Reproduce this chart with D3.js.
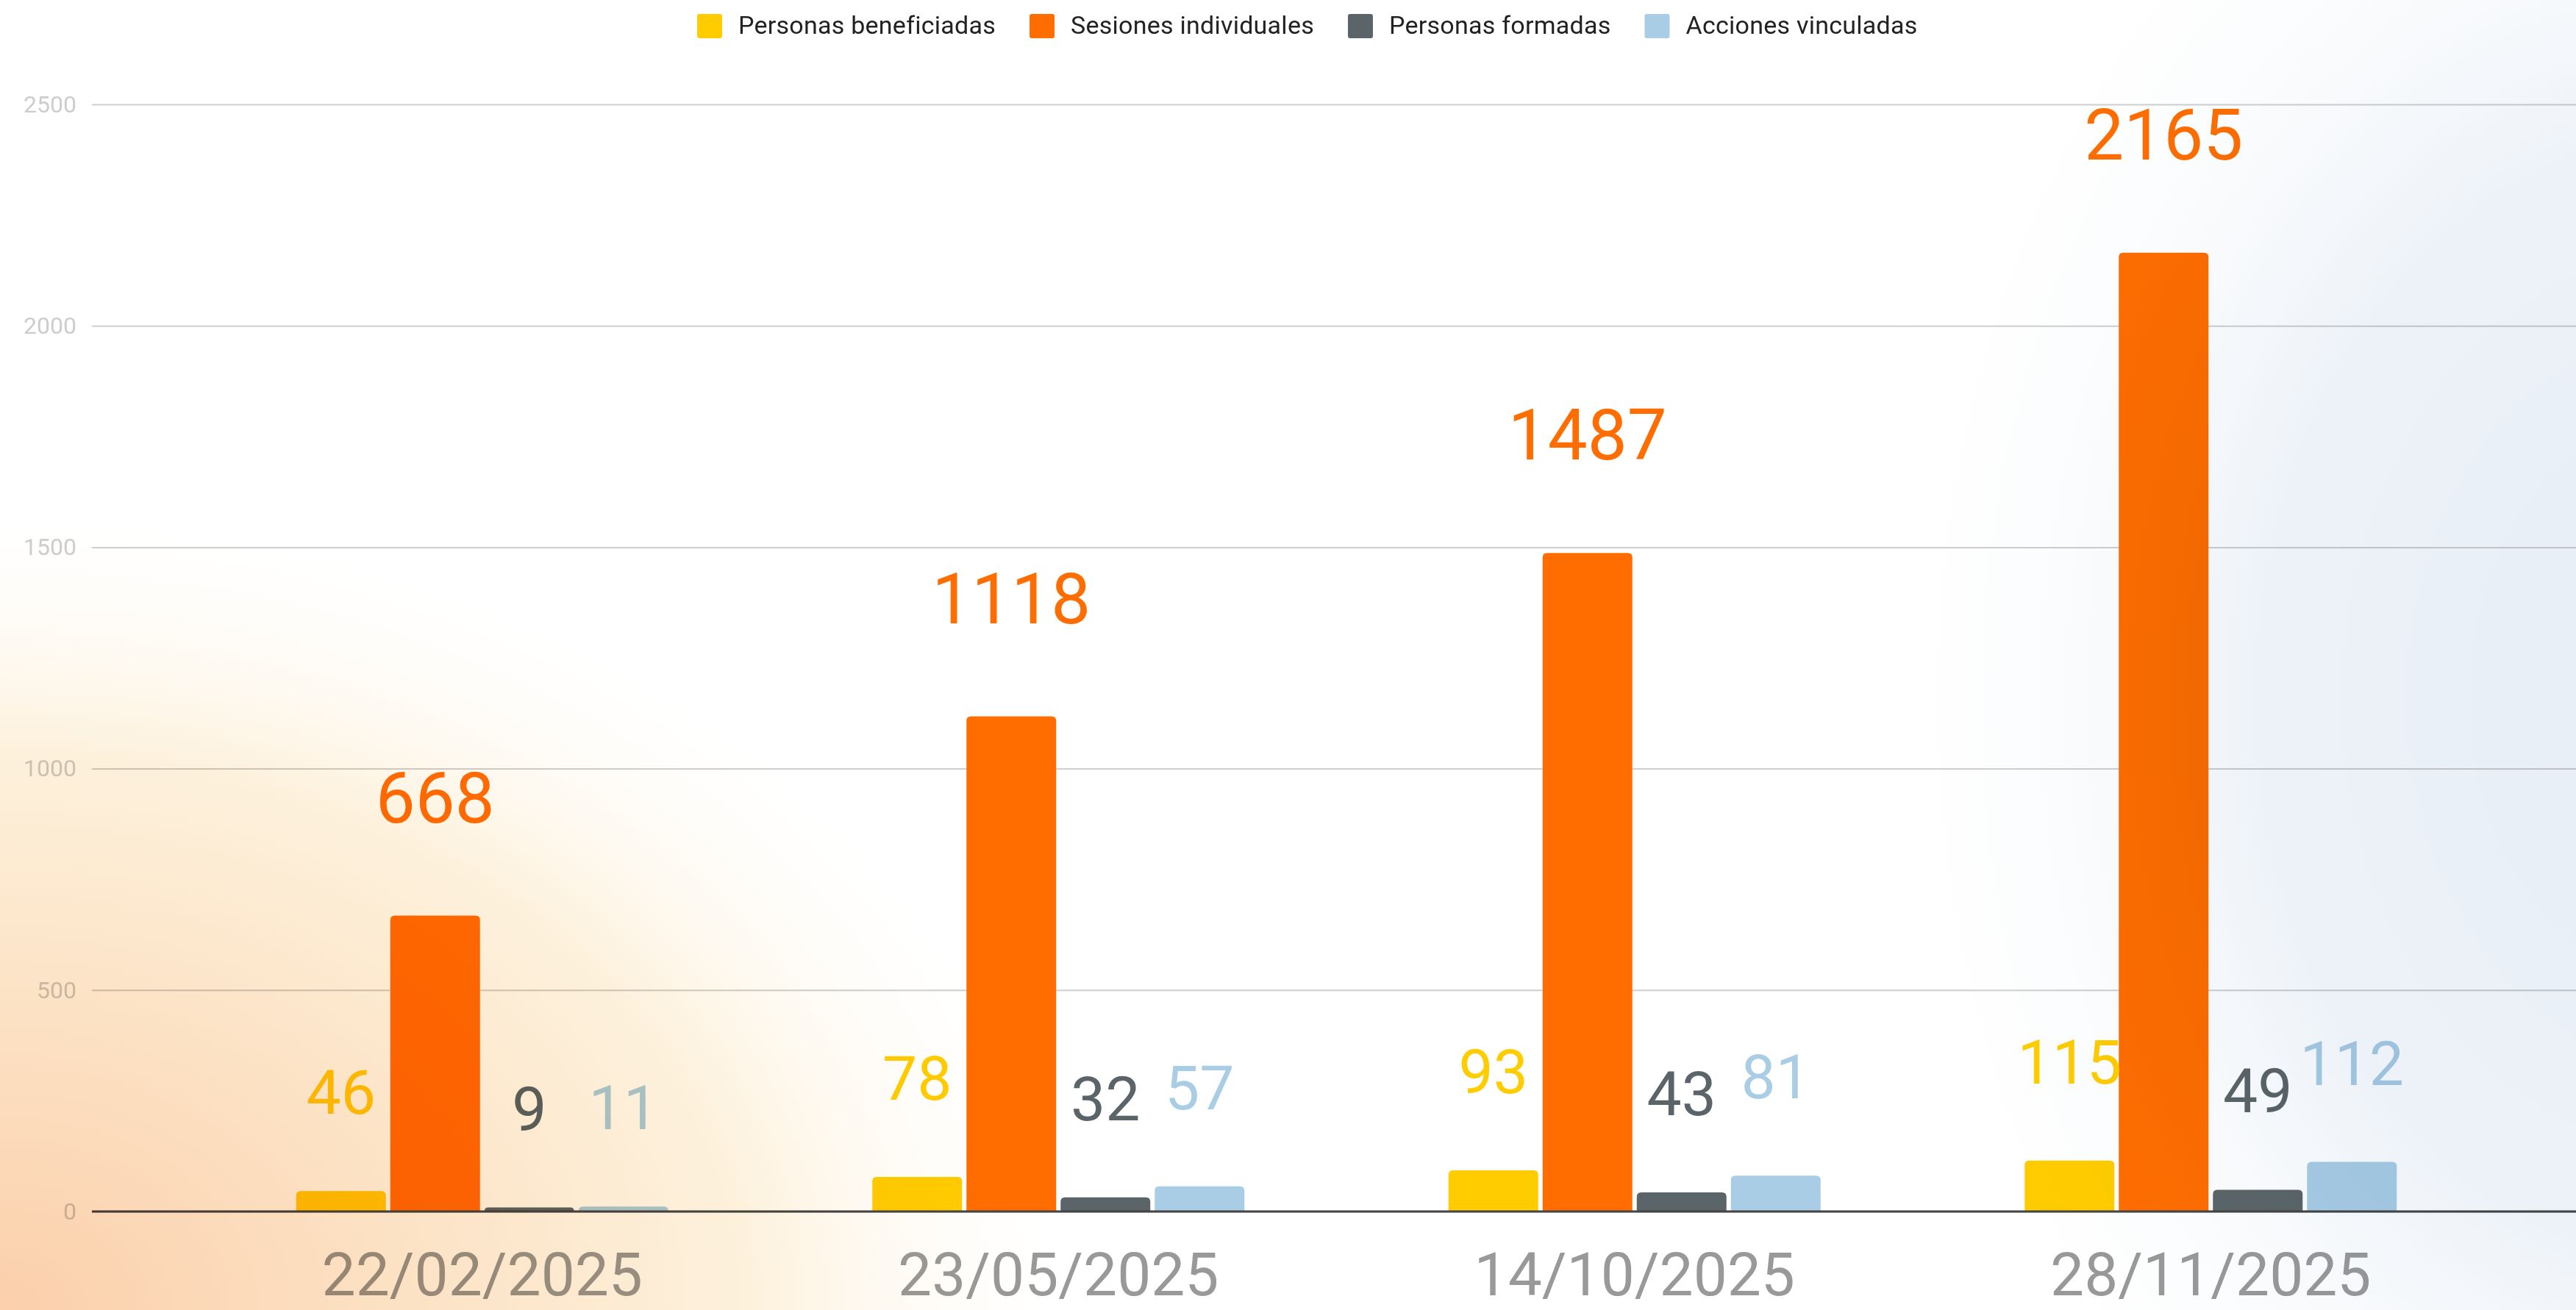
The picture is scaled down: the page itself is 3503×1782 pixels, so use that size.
<!DOCTYPE html>
<html>
<head>
<meta charset="utf-8">
<script src="https://cdn.jsdelivr.net/npm/d3@7"></script>
<style>
  html, body { margin: 0; padding: 0; background: #fff; }
  svg { display: block; font-family: Roboto, "Noto Sans", sans-serif; }
</style>
</head>
<body>
<svg id="chart"></svg>
<script>
// data
const dates = ['22/02/2025', '23/05/2025', '14/10/2025', '28/11/2025'];
const seriesNames = ['Personas beneficiadas', 'Sesiones individuales', 'Personas formadas', 'Acciones vinculadas'];
const beneficiadas = [46, 78, 93, 115];
const sesiones = [668, 1118, 1487, 2165];
const formadas = [9, 32, 43, 49];
const vinculadas = [11, 57, 81, 112];
const yTickValues = [0, 500, 1000, 1500, 2000, 2500];
const colors = ['#ffcc00', '#ff6d01', '#5b6569', '#a9cde4'];

class GroupedBarChart {

    constructor(config) {
        this.config = {
            parent: config.parent,
            width: config.width || 3503,
            height: config.height || 1782,
            margin: config.margin || {top: 142, right: 0, bottom: 134, left: 125}
        }
        this.init();
    }

    init() {
        let self = this;

        self.svg = d3.select(self.config.parent)
            .attr('width', self.config.width)
            .attr('height', self.config.height);

        // background glows
        const defs = self.svg.append('defs');
        const warm = defs.append('radialGradient').attr('id', 'warm');
        warm.append('stop').attr('offset', 0).attr('stop-color', '#fbcfab');
        warm.append('stop').attr('offset', 0.35).attr('stop-color', '#fce1c3');
        warm.append('stop').attr('offset', 0.68).attr('stop-color', '#fdf1dc');
        warm.append('stop').attr('offset', 1).attr('stop-color', '#ffffff').attr('stop-opacity', 0);

        const cool = defs.append('radialGradient').attr('id', 'cool');
        cool.append('stop').attr('offset', 0).attr('stop-color', '#e5edf5');
        cool.append('stop').attr('offset', 0.5).attr('stop-color', '#edf2f8');
        cool.append('stop').attr('offset', 1).attr('stop-color', '#ffffff').attr('stop-opacity', 0);

        self.svg.append('rect')
            .attr('width', self.config.width)
            .attr('height', self.config.height)
            .attr('fill', '#fff');
        self.svg.append('rect')
            .attr('x', -1500).attr('y', self.config.height - 1120)
            .attr('width', 3000).attr('height', 2240)
            .attr('fill', 'url(#warm)');
        self.svg.append('rect')
            .attr('x', self.config.width + 150 - 1150).attr('y', 950 - 1500)
            .attr('width', 2300).attr('height', 3000)
            .attr('fill', 'url(#cool)');

        self.chart = self.svg.append('g')
            .attr('class', 'chart')
            .style('mix-blend-mode', 'multiply');
    }

    update() {
        let self = this;
        const m = self.config.margin;

        self.data = dates.map((d, i) => ({
            date: d,
            values: [beneficiadas[i], sesiones[i], formadas[i], vinculadas[i]]
        }));

        self.yScale = d3.scaleLinear()
            .domain([0, 2500])
            .range([1648, m.top]);

        // group centres sit at ~656 .. 3006
        self.xScale = d3.scaleBand()
            .domain(dates)
            .range([264, 3398])
            .padding(0);

        self.xInner = d3.scaleBand()
            .domain(d3.range(seriesNames.length))
            .range([0, 506])
            .paddingInner(0.047);

        self.render();
    }

    render() {
        let self = this;
        const m = self.config.margin;
        const y0 = self.yScale(0);

        // grid + y labels
        const axisy = d3.axisLeft(self.yScale)
            .tickValues(yTickValues)
            .tickFormat(d3.format('d'))
            .tickSize(-(self.config.width - m.left))
            .tickPadding(21);
        const gy = self.chart.append('g')
            .attr('class', 'axis axis-y')
            .attr('transform', `translate(${m.left},0)`)
            .call(axisy);
        gy.select('.domain').remove();
        gy.selectAll('.tick line')
            .attr('stroke', '#cfcfcf')
            .attr('stroke-width', 2);
        gy.selectAll('.tick text')
            .attr('fill', '#cdcdcd')
            .attr('font-size', 32)
            .attr('font-family', 'Roboto');

        // bars, rounded at the top only
        const r = 6;
        const barPath = (x, y, w, h) => {
            const rr = Math.min(r, h);
            return `M${x},${y + h}V${y + rr}Q${x},${y} ${x + rr},${y}H${x + w - rr}Q${x + w},${y} ${x + w},${y + rr}V${y + h}Z`;
        };

        const groups = self.chart.append('g')
            .attr('class', 'bars')
            .selectAll('g')
            .data(self.data)
            .join('g')
            .attr('transform', d => `translate(${self.xScale(d.date) + self.xScale.bandwidth() / 2 - 253},0)`);

        groups.selectAll('path')
            .data(d => d.values.map((v, i) => ({v: v, i: i})))
            .join('path')
            .attr('fill', d => colors[d.i])
            .attr('d', d => barPath(self.xInner(d.i), self.yScale(d.v), self.xInner.bandwidth(), y0 - self.yScale(d.v)));

        // baseline
        self.chart.append('line')
            .attr('x1', m.left).attr('x2', self.config.width)
            .attr('y1', y0).attr('y2', y0)
            .attr('stroke', '#444')
            .attr('stroke-width', 3);

        // value labels
        groups.selectAll('text')
            .data(d => d.values.map((v, i) => ({v: v, i: i})))
            .join('text')
            .attr('x', d => self.xInner(d.i) + self.xInner.bandwidth() / 2)
            .attr('y', d => self.yScale(d.v) - (d.i === 1 ? 127 : 105))
            .attr('text-anchor', 'middle')
            .attr('fill', d => colors[d.i])
            .attr('font-size', d => d.i === 1 ? 96 : 84)
            .text(d => d.v);

        // date labels
        self.chart.append('g')
            .attr('class', 'axis axis-x')
            .selectAll('text')
            .data(dates)
            .join('text')
            .attr('x', d => self.xScale(d) + self.xScale.bandwidth() / 2)
            .attr('y', 1762)
            .attr('text-anchor', 'middle')
            .attr('fill', '#999')
            .attr('font-size', 82)
            .text(d => d);

        // legend
        const legend = self.chart.append('g').attr('class', 'legend');
        let lx = 948;
        seriesNames.forEach((name, i) => {
            legend.append('rect')
                .attr('x', lx).attr('y', 19)
                .attr('width', 34).attr('height', 33)
                .attr('rx', 3)
                .attr('fill', colors[i]);
            const t = legend.append('text')
                .attr('x', lx + 56).attr('y', 46)
                .attr('fill', '#222')
                .attr('font-size', 34)
                .attr('letter-spacing', 0.25)
                .text(name);
            lx += 56 + t.node().getComputedTextLength() + 46;
        });
    }
}

const chart = new GroupedBarChart({parent: '#chart'});
chart.update();
</script>
</body>
</html>
